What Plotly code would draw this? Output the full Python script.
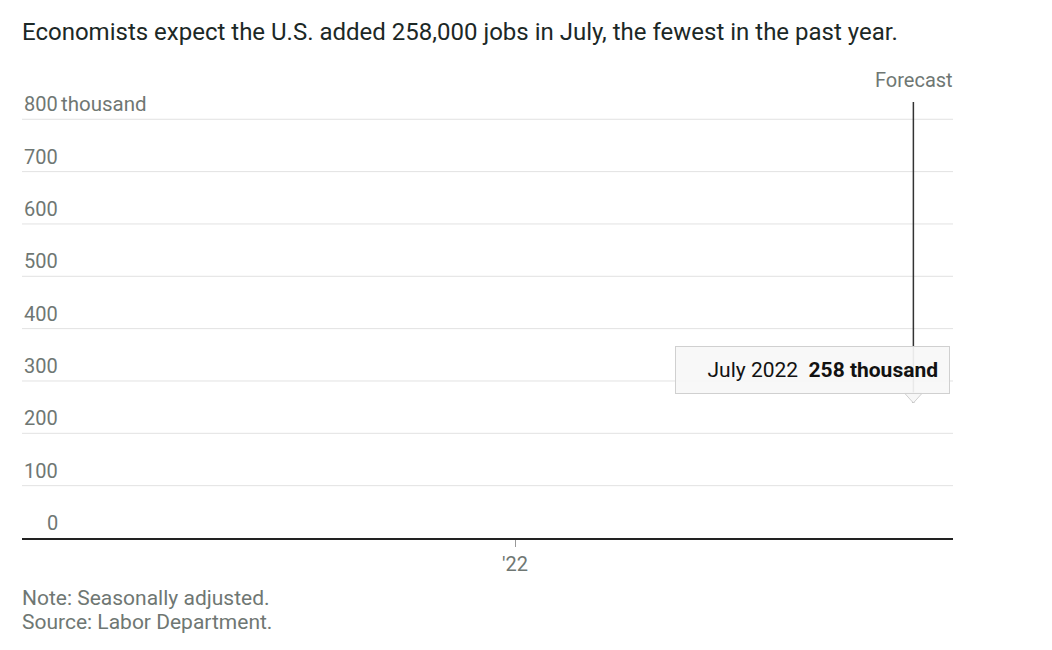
import plotly.graph_objects as go

# ---- data ----
y_ticks = [0, 100, 200, 300, 400, 500, 600, 700, 800]
y_tick_labels = ["0", "100", "200", "300", "400", "500", "600", "700", "800"]
x_tick_dates = ["2022-01-01"]
x_tick_labels = ["'22"]
forecast_month = "2022-07-01"
forecast_label = "July 2022"
forecast_value = 258  # thousand jobs

TITLE = "Economists expect the U.S. added 258,000 jobs in July, the fewest in the past year."
FONT = "Roboto"
GRAY = "#6f7773"
x_range = ["2021-05-22", "2022-07-19"]
y_range = [0, 833]

fig = go.Figure()

# invisible anchor point for the forecast value
fig.add_trace(go.Scatter(x=[forecast_month], y=[forecast_value], mode="markers",
                         marker=dict(size=1, color="rgba(0,0,0,0)"),
                         hoverinfo="skip", showlegend=False))

shapes = []
# gridlines
for v in y_ticks[1:]:
    shapes.append(dict(type="line", xref="paper", yref="y", x0=0, x1=1, y0=v, y1=v,
                       line=dict(color="#e2e2e2", width=1), layer="below"))
# forecast line
shapes.append(dict(type="line", xref="x", yref="y", x0=forecast_month, x1=forecast_month,
                   y0=forecast_value, y1=y_range[1],
                   line=dict(color="#333333", width=1.5), layer="above"))
# tooltip pointer
shapes.append(dict(type="path", xref="x", yref="y", xsizemode="pixel", ysizemode="pixel",
                   xanchor=forecast_month, yanchor=forecast_value,
                   path="M -9,10 L 0,0 L 9,10 Z",
                   fillcolor="#f7f7f7", line=dict(color="#d0d0d0", width=1), layer="above"))

annotations = []
# y tick labels
for v, lab in zip(y_ticks, y_tick_labels):
    annotations.append(dict(x=0, xref="paper", xanchor="right", xshift=38, y=v, yref="y",
                            yanchor="bottom", yshift=1, text=lab, showarrow=False,
                            font=dict(family=FONT, size=20, color=GRAY)))
annotations.append(dict(x=0, xref="paper", xanchor="left", xshift=37, y=y_ticks[-1], yref="y",
                        yanchor="bottom", yshift=1, text="thousand", showarrow=False,
                        font=dict(family=FONT, size=20.5, color=GRAY)))
# title
annotations.append(dict(x=0, xref="paper", xanchor="left", xshift=-2, y=1, yref="paper",
                        yanchor="middle", yshift=70, text=TITLE, showarrow=False,
                        font=dict(family=FONT, size=24, color="#1c2826")))
# forecast label
annotations.append(dict(x=1, xref="paper", xanchor="right", xshift=2, y=1, yref="paper",
                        yanchor="middle", yshift=22, text="Forecast", showarrow=False,
                        font=dict(family=FONT, size=20, color=GRAY)))
# tooltip
annotations.append(dict(x=forecast_month, xref="x", y=forecast_value, yref="y",
                        xanchor="right", yanchor="bottom", xshift=37, yshift=9,
                        text=f"{forecast_label}  <b>{forecast_value} thousand</b>",
                        width=251, align="right",
                        showarrow=False, bgcolor="rgba(247,247,247,0.93)",
                        bordercolor="#d0d0d0", borderwidth=1, borderpad=11,
                        font=dict(family=FONT, size=21, color="#121212")))
# notes
annotations.append(dict(x=0, xref="paper", xanchor="left", xshift=-2, y=0, yref="paper",
                        yanchor="middle", yshift=-60, text="Note: Seasonally adjusted.",
                        showarrow=False, font=dict(family=FONT, size=21, color=GRAY)))
annotations.append(dict(x=0, xref="paper", xanchor="left", xshift=-2, y=0, yref="paper",
                        yanchor="middle", yshift=-84, text="Source: Labor Department.",
                        showarrow=False, font=dict(family=FONT, size=21, color=GRAY)))

fig.update_layout(
    width=1052, height=650,
    margin=dict(l=14, r=107, t=94, b=120),
    paper_bgcolor="white", plot_bgcolor="white",
    showlegend=False,
    shapes=shapes, annotations=annotations,
    xaxis=dict(type="date", range=x_range, tickvals=x_tick_dates, ticktext=x_tick_labels,
               showgrid=False, zeroline=False, showline=True, linecolor="#222222", linewidth=2,
               ticks="outside", ticklen=7, tickcolor="#999999", tickwidth=1,
               tickfont=dict(family=FONT, size=20, color=GRAY), fixedrange=True),
    yaxis=dict(range=y_range, showgrid=False, zeroline=False, showticklabels=False,
               fixedrange=True),
)

fig.write_html("out.html")
